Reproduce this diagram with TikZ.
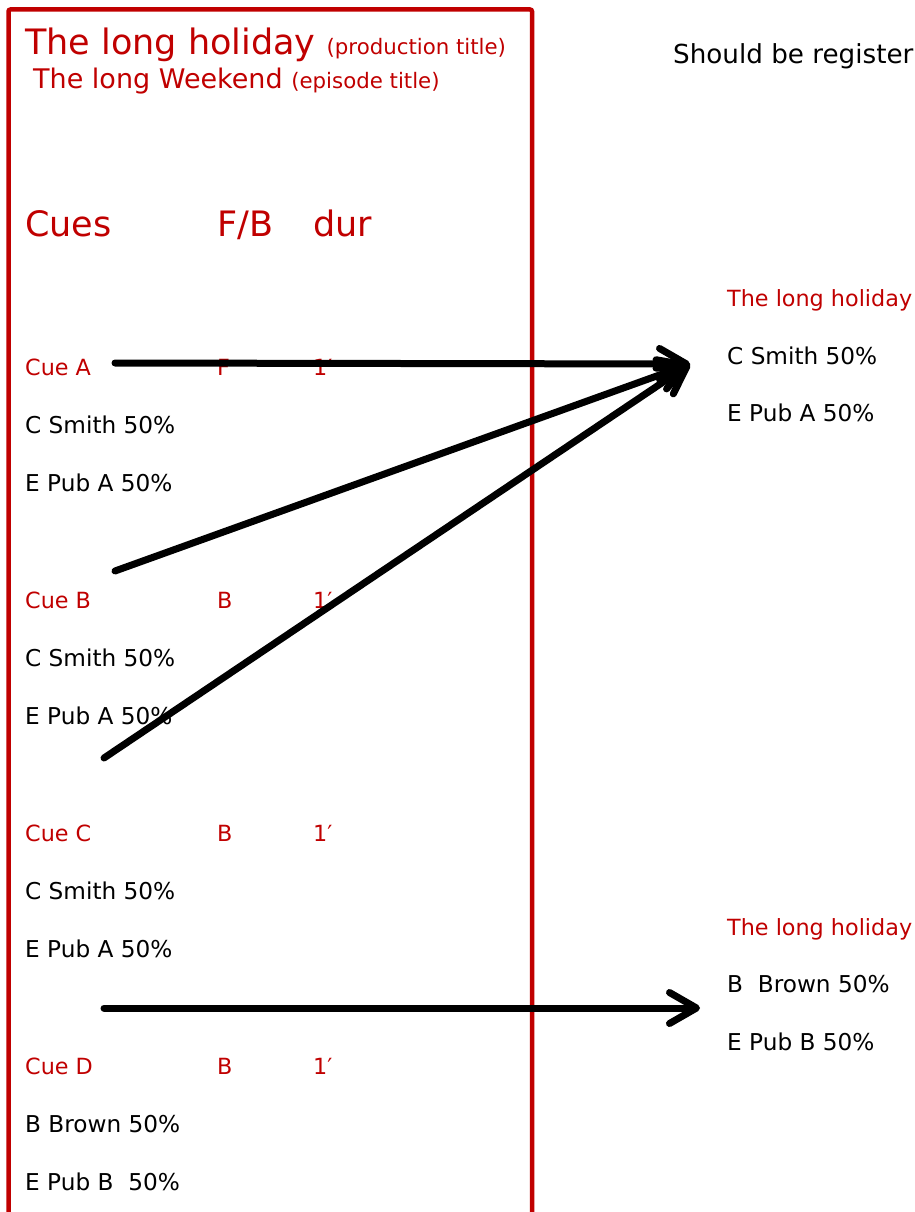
\documentclass[tikz,border=0pt]{standalone}
\usepackage{fontspec}
\setmainfont{DejaVu Sans}
\usetikzlibrary{arrows.meta}
\definecolor{cuered}{HTML}{C00000}
\newcommand\asidesize{\fontsize{21.3}{25}\selectfont}

\begin{document}
\begin{tikzpicture}[
  x=1pt, y=-1pt,
  font=\fontsize{23.2}{28}\selectfont,
  >={Straight Barb[length=27pt,width=31pt,round]},
  txt/.style  ={anchor=base west, inner sep=0pt},
  cue/.style  ={txt, text=cuered, font=\fontsize{22.3}{27}\selectfont},
  head/.style ={txt, text=cuered, font=\fontsize{35}{40}\selectfont},
  sub/.style  ={txt, text=cuered, font=\fontsize{27}{31}\selectfont},
  link/.style ={->, line width=7pt, line cap=round},
  sheet/.style={draw=cuered, line width=4.5pt, rounded corners=2pt},
]
\useasboundingbox (0,0) rectangle (914,1212);

% ---------- cue sheet frame ----------
\draw[sheet] (8.5,1240) |- (532,9.5) -- (532,1240);

% ---------- titles ----------
\node[head] (prod) at (25,55) {The long holiday {\asidesize (production title)}};
\node[sub]  (epi)  at (33,89) {The long Weekend {\asidesize (episode title)}};
\node[txt, font=\fontsize{26.2}{31}\selectfont] (reg) at (673,64) {Should be register};

% ---------- column heads ----------
\node[head] (cues) at (25,236)  {Cues};
\node[head] (fb)   at (217,236) {F/B};
\node[head] (dur)  at (313,236) {dur};

% ---------- cue blocks ----------
\foreach \c/\f/\pa/\pb [count=\i from 0] in {A/F/C Smith 50\%/E Pub A 50\%,
    B/B/C Smith 50\%/E Pub A 50\%, C/B/C Smith 50\%/E Pub A 50\%,
    D/B/B Brown 50\%/E Pub B\ \ 50\%}
{
  \node[cue] (cue\c) at (25,375+233*\i)  {Cue \c};
  \node[cue] (fb\c)  at (217,375+233*\i) {\f};
  \node[cue] (dur\c) at (313,375+233*\i) {1′};
  \node[txt] (p\c1)  at (25,433+233*\i)  {\pa};
  \node[txt] (p\c2)  at (25,491+233*\i)  {\pb};
}

% ---------- registrations ----------
\node[cue] (hol1)  at (727,306)  {The long holiday};
\node[txt] (hol1a) at (727,364)  {C Smith 50\%};
\node[txt] (hol1b) at (727,421)  {E Pub A 50\%};
\node[cue] (hol2)  at (727,935)  {The long holiday};
\node[txt] (hol2a) at (727,992)  {B\ \ Brown 50\%};
\node[txt] (hol2b) at (727,1050) {E Pub B 50\%};

% ---------- arrows ----------
\coordinate (s1) at (115,363);
\coordinate (s2) at (115,571);
\coordinate (s3) at (104,758);
\coordinate (s4) at (104,1008);
\coordinate (in1) at (690,364);
\coordinate (in2) at (700,1008);

\foreach \s in {s1,s2,s3}
  \draw[link] (\s) -- (in1);
\draw[link] (s4) -- (in2);

\end{tikzpicture}
\end{document}
